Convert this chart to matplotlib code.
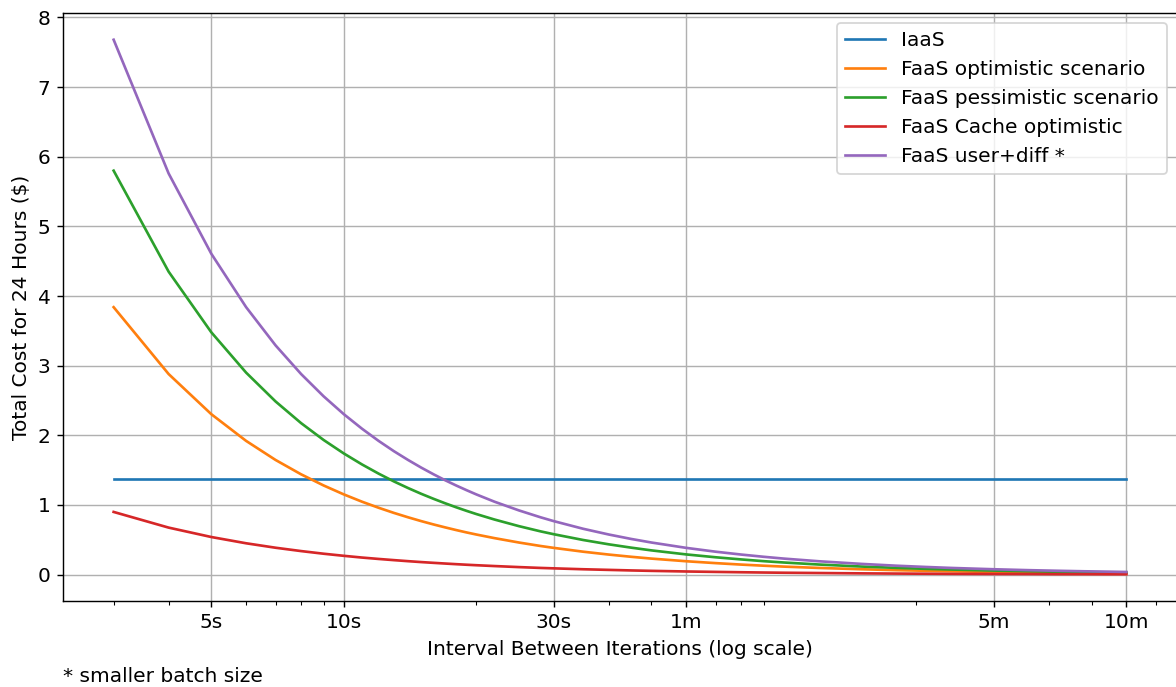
import matplotlib
matplotlib.use("Agg")
import matplotlib.pyplot as plt

# interval between iterations (seconds)
intervals = [3, 4, 5, 6, 7, 8, 9, 10, 11, 12, 13, 14, 15, 16, 17, 18, 19, 20,
             22, 25, 28, 30, 35, 40, 45, 50, 60, 70, 80, 90, 100, 120, 150,
             180, 210, 240, 300, 360, 420, 480, 540, 600]

iaas_cost = 1.38

faas_optimistic = [3.84, 2.88, 2.304, 1.92, 1.646, 1.44, 1.28, 1.152, 1.047, 0.96,
                   0.886, 0.823, 0.768, 0.72, 0.678, 0.64, 0.606, 0.576, 0.524,
                   0.461, 0.411, 0.384, 0.329, 0.288, 0.256, 0.230, 0.192, 0.165,
                   0.144, 0.128, 0.115, 0.096, 0.077, 0.064, 0.055, 0.048, 0.038,
                   0.032, 0.027, 0.024, 0.021, 0.019]

faas_pessimistic = [5.80, 4.35, 3.48, 2.90, 2.486, 2.175, 1.933, 1.74, 1.582, 1.45,
                    1.338, 1.243, 1.16, 1.088, 1.024, 0.967, 0.916, 0.87, 0.791,
                    0.696, 0.621, 0.58, 0.497, 0.435, 0.387, 0.348, 0.29, 0.249,
                    0.218, 0.193, 0.174, 0.145, 0.116, 0.097, 0.083, 0.073, 0.058,
                    0.048, 0.041, 0.036, 0.032, 0.029]

faas_cache = [0.90, 0.675, 0.54, 0.45, 0.386, 0.338, 0.30, 0.27, 0.245, 0.225,
              0.208, 0.193, 0.18, 0.169, 0.159, 0.15, 0.142, 0.135, 0.123, 0.108,
              0.096, 0.09, 0.077, 0.068, 0.06, 0.054, 0.045, 0.039, 0.034, 0.03,
              0.027, 0.023, 0.018, 0.015, 0.013, 0.011, 0.009, 0.008, 0.006,
              0.006, 0.005, 0.005]

faas_user_diff = [7.68, 5.76, 4.608, 3.84, 3.291, 2.88, 2.56, 2.304, 2.095, 1.92,
                  1.772, 1.646, 1.536, 1.44, 1.355, 1.28, 1.213, 1.152, 1.047,
                  0.922, 0.823, 0.768, 0.658, 0.576, 0.512, 0.461, 0.384, 0.329,
                  0.288, 0.256, 0.230, 0.192, 0.154, 0.128, 0.110, 0.096, 0.077,
                  0.064, 0.055, 0.048, 0.043, 0.038]

tick_values = [5, 10, 30, 60, 300, 600]
tick_labels = ["5s", "10s", "30s", "1m", "5m", "10m"]

plt.rcParams["font.size"] = 11.3

dpi = 128
fig = plt.figure(figsize=(1176 / dpi, 687 / dpi), dpi=dpi)
ax = fig.add_axes([63 / 1176, 86 / 687, 1114 / 1176, 588 / 687])

ax.plot(intervals, [iaas_cost] * len(intervals), label="IaaS")
ax.plot(intervals, faas_optimistic, label="FaaS optimistic scenario")
ax.plot(intervals, faas_pessimistic, label="FaaS pessimistic scenario")
ax.plot(intervals, faas_cache, label="FaaS Cache optimistic")
ax.plot(intervals, faas_user_diff, label="FaaS user+diff *")

ax.set_xscale("log")
ax.set_xticks(tick_values)
ax.set_xticklabels(tick_labels)
ax.set_xlabel("Interval Between Iterations (log scale)")
ax.set_ylabel("Total Cost for 24 Hours ($)")
ax.grid(True)
ax.legend(loc="upper right")

fig.text(63 / 1176, 5 / 687, "* smaller batch size")

plt.savefig("out.png", dpi=dpi)
